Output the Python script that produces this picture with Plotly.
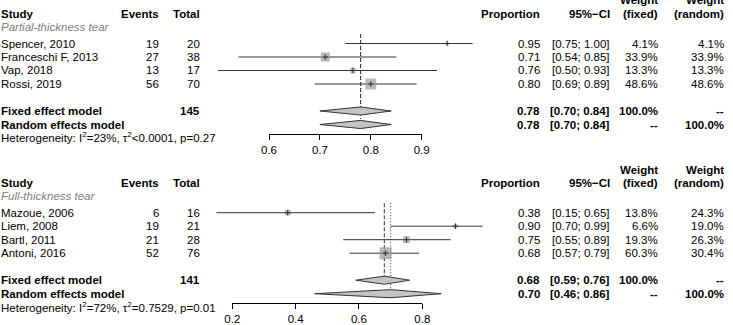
import plotly.graph_objects as go

W, H = 733, 325
FONT = "Liberation Sans, Arial, Helvetica, sans-serif"
FS = 11.5

# ---------------- data ----------------
p1_group = "Partial-thickness tear"
p1_studies = ["Spencer, 2010", "Franceschi F, 2013", "Vap, 2018", "Rossi, 2019"]
p1_events = [19, 27, 13, 56]
p1_total = [20, 38, 17, 70]
p1_ci_lo = [0.75, 0.54, 0.50, 0.69]
p1_ci_hi = [1.00, 0.85, 0.93, 0.89]
p1_w_fixed = [4.1, 33.9, 13.3, 48.6]
p1_w_random = [4.1, 33.9, 13.3, 48.6]
p1_fixed = [0.78, 0.70, 0.84]
p1_random = [0.78, 0.70, 0.84]
p1_n = 145
p1_het = "Heterogeneity: I<sup>2</sup>=23%, τ<sup>2</sup>&lt;0.0001, p=0.27"
p1_ticks = [0.6, 0.7, 0.8, 0.9]

p2_group = "Full-thickness tear"
p2_studies = ["Mazoue, 2006", "Liem, 2008", "Bartl, 2011", "Antoni, 2016"]
p2_events = [6, 19, 21, 52]
p2_total = [16, 21, 28, 76]
p2_ci_lo = [0.15, 0.70, 0.55, 0.57]
p2_ci_hi = [0.65, 0.99, 0.89, 0.79]
p2_w_fixed = [13.8, 6.6, 19.3, 60.3]
p2_w_random = [24.3, 19.0, 26.3, 30.4]
p2_fixed = [0.68, 0.59, 0.76]
p2_random = [0.70, 0.46, 0.86]
p2_n = 141
p2_het = "Heterogeneity: I<sup>2</sup>=72%, τ<sup>2</sup>=0.7529, p=0.01"
p2_ticks = [0.2, 0.4, 0.6, 0.8]

panels = [
    dict(group=p1_group, studies=p1_studies, events=p1_events, total=p1_total,
         lo=p1_ci_lo, hi=p1_ci_hi, wf=p1_w_fixed, wr=p1_w_random,
         fixed=p1_fixed, random=p1_random, n=p1_n, het=p1_het, ticks=p1_ticks,
         # layout (pixels)
         top_px=30.0, axis_px=134.0, t0_px=269.0, t1_px=421.7),
    dict(group=p2_group, studies=p2_studies, events=p2_events, total=p2_total,
         lo=p2_ci_lo, hi=p2_ci_hi, wf=p2_w_fixed, wr=p2_w_random,
         fixed=p2_fixed, random=p2_random, n=p2_n, het=p2_het, ticks=p2_ticks,
         top_px=199.2, axis_px=303.3, t0_px=232.3, t1_px=422.3),
]

ROW_PX = 13.5
DATA_X0, DATA_X1 = 200.0, 490.0
COL_EVENTS, COL_TOTAL = 159.5, 200.5
COL_PROP, COL_CI, COL_WF, COL_WR = 541.0, 611.0, 659.0, 724.5

LINE_COL = "#333333"
SQ_COL = "#9a9a9a"
DIA_FILL = "#c4c4c4"

fig = go.Figure()
annotations = []
layout_axes = {}


def ann(text, xpx, row, p, anchor="left", color="black"):
    ypx = p["top_px"] + row * ROW_PX
    annotations.append(dict(
        text=text, x=xpx / W, xref="paper", y=1 - ypx / H, yref="paper",
        xanchor=anchor, yanchor="middle", showarrow=False, borderpad=0,
        font=dict(family=FONT, size=FS, color=color)))


for i, p in enumerate(panels):
    k = i + 1
    xa = "x" if k == 1 else "x%d" % k
    ya = "y" if k == 1 else "y%d" % k
    xt = "x%d" % (k + 2)
    n = len(p["studies"])
    rows = list(range(1, n + 1))
    r_fixed, r_random, r_het = n + 2, n + 3, n + 3.96

    # scales
    t0, t1 = p["ticks"][0], p["ticks"][-1]
    scale = (p["t1_px"] - p["t0_px"]) / (t1 - t0)
    xr = [t0 - (p["t0_px"] - DATA_X0) / scale, t0 + (DATA_X1 - p["t0_px"]) / scale]
    yr_max = (p["axis_px"] - p["top_px"]) / ROW_PX
    ydom = [1 - p["axis_px"] / H, 1 - p["top_px"] / H]

    layout_axes["xaxis" if k == 1 else "xaxis%d" % k] = dict(
        domain=[DATA_X0 / W, DATA_X1 / W], range=xr, visible=False, anchor=ya)
    layout_axes["yaxis" if k == 1 else "yaxis%d" % k] = dict(
        domain=ydom, range=[yr_max, 0], visible=False, anchor=xa)
    layout_axes["xaxis%d" % (k + 2)] = dict(
        domain=[p["t0_px"] / W, p["t1_px"] / W], range=[t0, t1], anchor=ya,
        tickvals=p["ticks"], ticktext=["%g" % t for t in p["ticks"]],
        ticks="outside", ticklen=5, tickcolor="black", tickwidth=1,
        showline=True, linecolor="black", linewidth=1,
        showgrid=False, zeroline=False, automargin=False,
        tickfont=dict(family=FONT, size=FS, color="black"))
    # anchor trace for tick axis
    fig.add_trace(go.Scatter(x=[t0], y=[0], mode="markers", marker=dict(opacity=0),
                             xaxis=xt, yaxis=ya, hoverinfo="skip", showlegend=False))

    # reference lines
    fig.add_trace(go.Scatter(x=[p["fixed"][0]] * 2, y=[0.3, r_fixed], mode="lines",
                             line=dict(color=LINE_COL, width=1, dash="4px,2px"),
                             xaxis=xa, yaxis=ya, hoverinfo="skip", showlegend=False))
    fig.add_trace(go.Scatter(x=[p["random"][0]] * 2, y=[0.3, r_random], mode="lines",
                             line=dict(color=LINE_COL, width=1, dash="1px,2px"),
                             xaxis=xa, yaxis=ya, hoverinfo="skip", showlegend=False))

    # CI lines
    cx, cy = [], []
    for r, lo, hi in zip(rows, p["lo"], p["hi"]):
        cx += [lo, hi, None]
        cy += [r, r, None]
    fig.add_trace(go.Scatter(x=cx, y=cy, mode="lines", line=dict(color=LINE_COL, width=1),
                             xaxis=xa, yaxis=ya, hoverinfo="skip", showlegend=False))

    # squares
    est = [e / t for e, t in zip(p["events"], p["total"])]
    sizes = [1.55 * w ** 0.5 for w in p["wf"]]
    fig.add_trace(go.Scatter(x=est, y=rows, mode="markers",
                             marker=dict(symbol="square", size=sizes, color=SQ_COL,
                                         line=dict(width=0)),
                             xaxis=xa, yaxis=ya, hoverinfo="skip", showlegend=False))
    fig.add_trace(go.Scatter(x=est, y=rows, mode="markers",
                             marker=dict(symbol="cross-thin", size=4,
                                         line=dict(color=LINE_COL, width=1)),
                             xaxis=xa, yaxis=ya, hoverinfo="skip", showlegend=False))

    # diamonds
    h = 0.3
    for r, (m, lo, hi) in ((r_fixed, p["fixed"]), (r_random, p["random"])):
        fig.add_trace(go.Scatter(x=[lo, m, hi, m, lo], y=[r, r - h, r, r + h, r],
                                 mode="lines", fill="toself", fillcolor=DIA_FILL,
                                 line=dict(color=LINE_COL, width=1),
                                 xaxis=xa, yaxis=ya, hoverinfo="skip", showlegend=False))

    # text columns
    ann("<b>Study</b>", 0, -1.17, p)
    ann("<b>Events</b>", COL_EVENTS, -1.17, p, "right")
    ann("<b>Total</b>", COL_TOTAL, -1.17, p, "right")
    ann("<b>Proportion</b>", COL_PROP, -1.17, p, "right")
    ann("<b>95%−CI</b>", COL_CI, -1.17, p, "right")
    ann("<b>Weight</b>", COL_WF, -2.2, p, "right")
    ann("<b>(fixed)</b>", COL_WF, -1.17, p, "right")
    ann("<b>Weight</b>", COL_WR, -2.2, p, "right")
    ann("<b>(random)</b>", COL_WR, -1.17, p, "right")
    ann("<i>%s</i>" % p["group"], 0, -0.24, p, color="#808080")

    for r, s, e, t, m, lo, hi, wf, wr in zip(rows, p["studies"], p["events"], p["total"],
                                             est, p["lo"], p["hi"], p["wf"], p["wr"]):
        ann(s, 0, r, p)
        ann(str(e), COL_EVENTS, r, p, "right")
        ann(str(t), COL_TOTAL, r, p, "right")
        ann("%.2f" % m, COL_PROP, r, p, "right")
        ann("[%.2f; %.2f]" % (lo, hi), COL_CI, r, p, "right")
        ann("%.1f%%" % wf, COL_WF, r, p, "right")
        ann("%.1f%%" % wr, COL_WR, r, p, "right")

    ann("<b>Fixed effect model</b>", 0, r_fixed, p)
    ann("<b>%d</b>" % p["n"], COL_TOTAL, r_fixed, p, "right")
    ann("<b>%.2f</b>" % p["fixed"][0], COL_PROP, r_fixed, p, "right")
    ann("<b>[%.2f; %.2f]</b>" % (p["fixed"][1], p["fixed"][2]), COL_CI, r_fixed, p, "right")
    ann("<b>100.0%</b>", COL_WF, r_fixed, p, "right")
    ann("<b>--</b>", COL_WR, r_fixed, p, "right")

    ann("<b>Random effects model</b>", 0, r_random, p)
    ann("<b>%.2f</b>" % p["random"][0], COL_PROP, r_random, p, "right")
    ann("<b>[%.2f; %.2f]</b>" % (p["random"][1], p["random"][2]), COL_CI, r_random, p, "right")
    ann("<b>--</b>", COL_WF, r_random, p, "right")
    ann("<b>100.0%</b>", COL_WR, r_random, p, "right")

    ann(p["het"], 0, r_het, p)

fig.update_layout(
    width=W, height=H, margin=dict(l=0, r=0, t=0, b=0, pad=0, autoexpand=False),
    paper_bgcolor="white", plot_bgcolor="rgba(0,0,0,0)",
    showlegend=False, annotations=annotations, **layout_axes)

fig.write_html("out.html", config={"displayModeBar": False, "responsive": False})
